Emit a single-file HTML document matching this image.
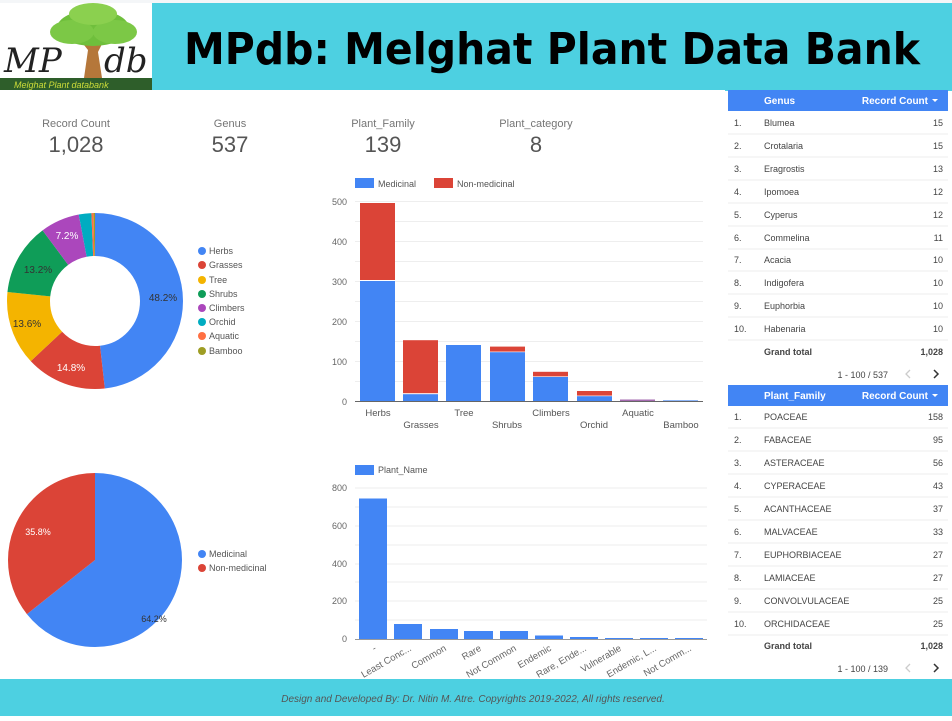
<!DOCTYPE html>
<html><head><meta charset="utf-8"><style>
body{margin:0;width:952px;height:716px;overflow:hidden;background:#fff;font-family:"Liberation Sans",sans-serif}
</style></head><body>
<svg width="952" height="716" viewBox="0 0 952 716" xmlns="http://www.w3.org/2000/svg" font-family="Liberation Sans, sans-serif">
<rect x="0" y="0" width="952" height="3" fill="#f4f6f8"/>
<!-- header -->
<rect x="152" y="3" width="800" height="87" fill="#4dd0e1"/>
<rect x="725" y="88" width="227" height="3" fill="#4dd0e1"/>
<!-- logo -->
<rect x="0" y="78" width="152" height="12" fill="#2e5e2a"/>
<text x="14" y="88" font-size="9" fill="#cddc39" font-style="italic">Melghat Plant databank</text>
<path d="M84 78 L88 50 L80 40 L95 45 L104 40 L98 52 L102 78Z" fill="#b5773a"/>
<ellipse cx="93" cy="28" rx="36" ry="18" fill="#6fbf3c"/>
<ellipse cx="72" cy="32" rx="22" ry="12" fill="#7cc846"/>
<ellipse cx="115" cy="32" rx="22" ry="12" fill="#7cc846"/>
<ellipse cx="93" cy="14" rx="24" ry="11" fill="#8bd04f"/>
<text x="4" y="72" font-size="34" font-family="DejaVu Serif, serif" font-style="italic" fill="#222">MP</text>
<text x="104" y="72" font-size="34" font-family="DejaVu Serif, serif" font-style="italic" fill="#222">db</text>
<text x="184" y="64" font-size="44" font-weight="bold" font-family="DejaVu Sans, sans-serif" fill="#000" textLength="736" lengthAdjust="spacingAndGlyphs">MPdb: Melghat Plant Data Bank</text>
<!-- KPIs -->
<g text-anchor="middle" fill="#757575">
<text x="76" y="127" font-size="11">Record Count</text><text x="76" y="152" font-size="22" fill="#555">1,028</text>
<text x="230" y="127" font-size="11">Genus</text><text x="230" y="152" font-size="22" fill="#555">537</text>
<text x="383" y="127" font-size="11">Plant_Family</text><text x="383" y="152" font-size="22" fill="#555">139</text>
<text x="536" y="127" font-size="11">Plant_category</text><text x="536" y="152" font-size="22" fill="#555">8</text>
</g>
<!-- donut -->
<g transform="rotate(-90 95 301)" fill="none" stroke-width="43">
<circle cx="95" cy="301" r="66.5" stroke="#4285f4" stroke-dasharray="201.4 1000" stroke-dashoffset="0"/>
<circle cx="95" cy="301" r="66.5" stroke="#db4437" stroke-dasharray="61.84 1000" stroke-dashoffset="-201.4"/>
<circle cx="95" cy="301" r="66.5" stroke="#f4b400" stroke-dasharray="56.82 1000" stroke-dashoffset="-263.24"/>
<circle cx="95" cy="301" r="66.5" stroke="#0f9d58" stroke-dasharray="55.15 1000" stroke-dashoffset="-320.06"/>
<circle cx="95" cy="301" r="66.5" stroke="#ab47bc" stroke-dasharray="30.08 1000" stroke-dashoffset="-375.21"/>
<circle cx="95" cy="301" r="66.5" stroke="#00acc1" stroke-dasharray="9.61 1000" stroke-dashoffset="-405.29"/>
<circle cx="95" cy="301" r="66.5" stroke="#ff7043" stroke-dasharray="1.67 1000" stroke-dashoffset="-414.9"/>
<circle cx="95" cy="301" r="66.5" stroke="#9e9d24" stroke-dasharray="1.25 1000" stroke-dashoffset="-416.57"/>
</g>
<g font-size="10" text-anchor="middle">
<text x="163" y="301" fill="#333">48.2%</text>
<text x="71" y="371" fill="#fff">14.8%</text>
<text x="27" y="327" fill="#333">13.6%</text>
<text x="38" y="273" fill="#333">13.2%</text>
<text x="67" y="239" fill="#fff">7.2%</text>
</g>
<g font-size="9" fill="#555">
<circle cx="202" cy="251" r="4" fill="#4285f4"/><text x="209" y="254">Herbs</text>
<circle cx="202" cy="265" r="4" fill="#db4437"/><text x="209" y="268">Grasses</text>
<circle cx="202" cy="280" r="4" fill="#f4b400"/><text x="209" y="283">Tree</text>
<circle cx="202" cy="294" r="4" fill="#0f9d58"/><text x="209" y="297">Shrubs</text>
<circle cx="202" cy="308" r="4" fill="#ab47bc"/><text x="209" y="311">Climbers</text>
<circle cx="202" cy="322" r="4" fill="#00acc1"/><text x="209" y="325">Orchid</text>
<circle cx="202" cy="336" r="4" fill="#ff7043"/><text x="209" y="339">Aquatic</text>
<circle cx="202" cy="351" r="4" fill="#9e9d24"/><text x="209" y="354">Bamboo</text>
</g>
<!-- pie -->
<g transform="rotate(-90 95 560)" fill="none" stroke-width="87">
<circle cx="95" cy="560" r="43.5" stroke="#4285f4" stroke-dasharray="175.47 1000"/>
<circle cx="95" cy="560" r="43.5" stroke="#db4437" stroke-dasharray="97.85 1000" stroke-dashoffset="-175.47"/>
</g>
<text x="154" y="622" font-size="9" fill="#333" text-anchor="middle">64.2%</text>
<text x="38" y="535" font-size="9" fill="#fff" text-anchor="middle">35.8%</text>
<g font-size="9" fill="#555">
<circle cx="202" cy="554" r="4" fill="#4285f4"/><text x="209" y="557">Medicinal</text>
<circle cx="202" cy="568" r="4" fill="#db4437"/><text x="209" y="571">Non-medicinal</text>
</g>
<!-- bar chart 1 -->
<rect x="355" y="178" width="19" height="10" fill="#4285f4"/><text x="378" y="187" font-size="9" fill="#555">Medicinal</text>
<rect x="434" y="178" width="19" height="10" fill="#db4437"/><text x="457" y="187" font-size="9" fill="#555">Non-medicinal</text>
<g stroke="#eee" stroke-width="1">
<line x1="355" x2="703" y1="201.5" y2="201.5"/><line x1="355" x2="703" y1="221.5" y2="221.5"/><line x1="355" x2="703" y1="241.5" y2="241.5"/><line x1="355" x2="703" y1="261.5" y2="261.5"/><line x1="355" x2="703" y1="281.5" y2="281.5"/><line x1="355" x2="703" y1="301.5" y2="301.5"/><line x1="355" x2="703" y1="321.5" y2="321.5"/><line x1="355" x2="703" y1="341.5" y2="341.5"/><line x1="355" x2="703" y1="361.5" y2="361.5"/><line x1="355" x2="703" y1="381.5" y2="381.5"/>
</g>
<g font-size="9" fill="#666" text-anchor="end">
<text x="347" y="205">500</text><text x="347" y="245">400</text><text x="347" y="285">300</text><text x="347" y="325">200</text><text x="347" y="365">100</text><text x="347" y="405">0</text>
</g>
<g>
<rect x="360" y="281" width="35" height="120" fill="#4285f4"/><rect x="360" y="203" width="35" height="77" fill="#db4437"/>
<rect x="403" y="394.2" width="35" height="6.8" fill="#4285f4"/><rect x="403" y="340.2" width="35" height="53" fill="#db4437"/>
<rect x="446" y="345" width="35" height="56" fill="#4285f4"/>
<rect x="490" y="352.2" width="35" height="48.8" fill="#4285f4"/><rect x="490" y="346.6" width="35" height="5" fill="#db4437"/>
<rect x="533" y="377" width="35" height="24" fill="#4285f4"/><rect x="533" y="371.8" width="35" height="4.6" fill="#db4437"/>
<rect x="577" y="396.2" width="35" height="4.8" fill="#4285f4"/><rect x="577" y="391" width="35" height="4.6" fill="#db4437"/>
<rect x="620" y="399.5" width="35" height="1.5" fill="#a56bb0"/>
<rect x="663" y="400.4" width="35" height="0.6" fill="#4285f4"/>
</g>
<line x1="355" x2="703" y1="401.5" y2="401.5" stroke="#666"/>
<g font-size="9.5" fill="#555" text-anchor="middle">
<text x="378" y="416">Herbs</text><text x="421" y="428">Grasses</text><text x="464" y="416">Tree</text><text x="507" y="428">Shrubs</text>
<text x="551" y="416">Climbers</text><text x="594" y="428">Orchid</text><text x="638" y="416">Aquatic</text><text x="681" y="428">Bamboo</text>
</g>
<!-- bar chart 2 -->
<rect x="355" y="465" width="19" height="10" fill="#4285f4"/><text x="378" y="473" font-size="9" fill="#555">Plant_Name</text>
<g stroke="#eee">
<line x1="355" x2="707" y1="488" y2="488"/><line x1="355" x2="707" y1="507" y2="507"/><line x1="355" x2="707" y1="526" y2="526"/><line x1="355" x2="707" y1="545" y2="545"/><line x1="355" x2="707" y1="564" y2="564"/><line x1="355" x2="707" y1="582" y2="582"/><line x1="355" x2="707" y1="601" y2="601"/><line x1="355" x2="707" y1="620" y2="620"/>
</g>
<g font-size="9" fill="#666" text-anchor="end">
<text x="347" y="491">800</text><text x="347" y="529">600</text><text x="347" y="567">400</text><text x="347" y="604">200</text><text x="347" y="642">0</text>
</g>
<g fill="#4285f4">
<rect x="359" y="498.5" width="28" height="140.5"/>
<rect x="394" y="624" width="28" height="15"/>
<rect x="430" y="629" width="28" height="10"/>
<rect x="464" y="631" width="29" height="8"/>
<rect x="500" y="631" width="28" height="8"/>
<rect x="535" y="635.5" width="28" height="3.5"/>
<rect x="570" y="637" width="28" height="2"/>
<rect x="605" y="638" width="28" height="1"/>
<rect x="640" y="638" width="28" height="1"/>
<rect x="675" y="638" width="28" height="1"/>
</g>
<line x1="355" x2="707" y1="639.5" y2="639.5" stroke="#999"/>
<g font-size="9.5" fill="#666" text-anchor="end">
<text transform="translate(377 650) rotate(-30)">-</text>
<text transform="translate(412 650) rotate(-30)">Least Conc...</text>
<text transform="translate(447 650) rotate(-30)">Common</text>
<text transform="translate(482 650) rotate(-30)">Rare</text>
<text transform="translate(517 650) rotate(-30)">Not Common</text>
<text transform="translate(552 650) rotate(-30)">Endemic</text>
<text transform="translate(587 650) rotate(-30)">Rare, Ende...</text>
<text transform="translate(622 650) rotate(-30)">Vulnerable</text>
<text transform="translate(657 650) rotate(-30)">Endemic, L...</text>
<text transform="translate(692 650) rotate(-30)">Not Comm...</text>
</g>
<!-- table 1 -->
<rect x="728" y="90" width="220" height="21" fill="#4285f4"/>
<text x="764" y="104" font-size="10" font-weight="bold" fill="#fff">Genus</text>
<text x="928" y="104" font-size="10" font-weight="bold" fill="#fff" text-anchor="end">Record Count</text>
<path d="M932 99 l6 0 l-3 3z" fill="#fff"/>
<g font-size="9" fill="#444">
<text x="734" y="126">1.</text><text x="764" y="126">Blumea</text><text x="943" y="126" text-anchor="end">15</text>
<text x="734" y="149">2.</text><text x="764" y="149">Crotalaria</text><text x="943" y="149" text-anchor="end">15</text>
<text x="734" y="172">3.</text><text x="764" y="172">Eragrostis</text><text x="943" y="172" text-anchor="end">13</text>
<text x="734" y="195">4.</text><text x="764" y="195">Ipomoea</text><text x="943" y="195" text-anchor="end">12</text>
<text x="734" y="218">5.</text><text x="764" y="218">Cyperus</text><text x="943" y="218" text-anchor="end">12</text>
<text x="734" y="241">6.</text><text x="764" y="241">Commelina</text><text x="943" y="241" text-anchor="end">11</text>
<text x="734" y="263">7.</text><text x="764" y="263">Acacia</text><text x="943" y="263" text-anchor="end">10</text>
<text x="734" y="286">8.</text><text x="764" y="286">Indigofera</text><text x="943" y="286" text-anchor="end">10</text>
<text x="734" y="309">9.</text><text x="764" y="309">Euphorbia</text><text x="943" y="309" text-anchor="end">10</text>
<text x="734" y="332">10.</text><text x="764" y="332">Habenaria</text><text x="943" y="332" text-anchor="end">10</text>
<text x="764" y="355" font-weight="bold">Grand total</text><text x="943" y="355" text-anchor="end" font-weight="bold">1,028</text>
<text x="888" y="378" text-anchor="end">1 - 100 / 537</text>
</g>
<g stroke="#eee"><line x1="728" x2="948" y1="134" y2="134"/><line x1="728" x2="948" y1="157" y2="157"/><line x1="728" x2="948" y1="180" y2="180"/><line x1="728" x2="948" y1="203" y2="203"/><line x1="728" x2="948" y1="226" y2="226"/><line x1="728" x2="948" y1="249" y2="249"/><line x1="728" x2="948" y1="271" y2="271"/><line x1="728" x2="948" y1="294" y2="294"/><line x1="728" x2="948" y1="317" y2="317"/><line x1="728" x2="948" y1="340" y2="340"/></g>
<path d="M910 370 l-4 4 l4 4" stroke="#ccc" fill="none" stroke-width="1.3"/>
<path d="M934 370 l4 4 l-4 4" stroke="#333" fill="none" stroke-width="1.5"/>
<!-- table 2 -->
<rect x="728" y="385" width="220" height="21" fill="#4285f4"/>
<text x="764" y="399" font-size="10" font-weight="bold" fill="#fff">Plant_Family</text>
<text x="928" y="399" font-size="10" font-weight="bold" fill="#fff" text-anchor="end">Record Count</text>
<path d="M932 394 l6 0 l-3 3z" fill="#fff"/>
<g font-size="9" fill="#444">
<text x="734" y="420">1.</text><text x="764" y="420">POACEAE</text><text x="943" y="420" text-anchor="end">158</text>
<text x="734" y="443">2.</text><text x="764" y="443">FABACEAE</text><text x="943" y="443" text-anchor="end">95</text>
<text x="734" y="466">3.</text><text x="764" y="466">ASTERACEAE</text><text x="943" y="466" text-anchor="end">56</text>
<text x="734" y="489">4.</text><text x="764" y="489">CYPERACEAE</text><text x="943" y="489" text-anchor="end">43</text>
<text x="734" y="512">5.</text><text x="764" y="512">ACANTHACEAE</text><text x="943" y="512" text-anchor="end">37</text>
<text x="734" y="535">6.</text><text x="764" y="535">MALVACEAE</text><text x="943" y="535" text-anchor="end">33</text>
<text x="734" y="558">7.</text><text x="764" y="558">EUPHORBIACEAE</text><text x="943" y="558" text-anchor="end">27</text>
<text x="734" y="581">8.</text><text x="764" y="581">LAMIACEAE</text><text x="943" y="581" text-anchor="end">27</text>
<text x="734" y="604">9.</text><text x="764" y="604">CONVOLVULACEAE</text><text x="943" y="604" text-anchor="end">25</text>
<text x="734" y="627">10.</text><text x="764" y="627">ORCHIDACEAE</text><text x="943" y="627" text-anchor="end">25</text>
<text x="764" y="649" font-weight="bold">Grand total</text><text x="943" y="649" text-anchor="end" font-weight="bold">1,028</text>
<text x="888" y="672" text-anchor="end">1 - 100 / 139</text>
</g>
<g stroke="#eee"><line x1="728" x2="948" y1="428" y2="428"/><line x1="728" x2="948" y1="451" y2="451"/><line x1="728" x2="948" y1="474" y2="474"/><line x1="728" x2="948" y1="497" y2="497"/><line x1="728" x2="948" y1="520" y2="520"/><line x1="728" x2="948" y1="543" y2="543"/><line x1="728" x2="948" y1="566" y2="566"/><line x1="728" x2="948" y1="589" y2="589"/><line x1="728" x2="948" y1="612" y2="612"/><line x1="728" x2="948" y1="635" y2="635"/></g>
<path d="M910 664 l-4 4 l4 4" stroke="#ccc" fill="none" stroke-width="1.3"/>
<path d="M934 664 l4 4 l-4 4" stroke="#333" fill="none" stroke-width="1.5"/>
<!-- footer -->
<rect x="0" y="679" width="952" height="37" fill="#4dd0e1"/>
<text x="473" y="702" font-size="10" font-style="italic" fill="#555" text-anchor="middle">Design and Developed By: Dr. Nitin M. Atre. Copyrights 2019-2022, All rights reserved.</text>
</svg>
</body></html>
